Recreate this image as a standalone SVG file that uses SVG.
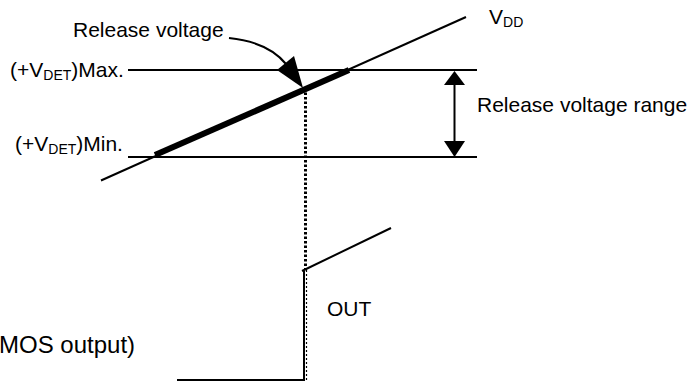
<svg xmlns="http://www.w3.org/2000/svg" width="699" height="385" viewBox="0 0 699 385">
<style>
text{font-family:"Liberation Sans",Arial,sans-serif;font-size:21px;fill:#000}
.sub{font-size:14px}
.ln{stroke:#000;stroke-width:2;fill:none}
</style>
<rect width="699" height="385" fill="#fff"/>
<g id="connectors">
<line class="ln" x1="128" y1="70" x2="477" y2="70"/>
<line class="ln" x1="128" y1="157" x2="477" y2="157"/>
<line class="ln" x1="101" y1="180.5" x2="466" y2="17"/>
<line stroke="#000" stroke-width="6" x1="155" y1="155" x2="349" y2="70"/>
<line stroke="#000" stroke-width="3" stroke-dasharray="2.5,2" x1="305.5" y1="88" x2="305.5" y2="270"/>
<line stroke="#000" stroke-width="1.2" stroke-dasharray="2,2" x1="306.5" y1="270" x2="306.5" y2="380"/>
<polyline class="ln" points="177,380 304,380 304,271"/>
<line class="ln" x1="302" y1="271" x2="391" y2="228"/>
<path class="ln" d="M229,38 Q268,42 286,64"/>
<polygon points="277,70 294,56 303,88" fill="#000"/>
<line class="ln" x1="454.5" y1="82" x2="454.5" y2="145"/>
<polygon points="454.5,71 444,85 465,85" fill="#000"/>
<polygon points="454.5,157 444,141 465,141" fill="#000"/>
</g>
<g id="release-voltage"><text x="73" y="37">Release voltage</text></g>
<g id="vdd"><text x="489" y="24">V<tspan class="sub" dy="3">DD</tspan></text></g>
<g id="vdet-max"><text x="10" y="77">(+V<tspan class="sub" dy="3">DET</tspan><tspan dy="-3">)Max.</tspan></text></g>
<g id="vdet-min"><text x="15" y="151">(+V<tspan class="sub" dy="3">DET</tspan><tspan dy="-3">)Min.</tspan></text></g>
<g id="range"><text x="477" y="112">Release voltage range</text></g>
<g id="out"><text x="327" y="316">OUT</text></g>
<g id="cmos"><text x="-1" y="353" style="font-size:24px">MOS output)</text></g>
</svg>
